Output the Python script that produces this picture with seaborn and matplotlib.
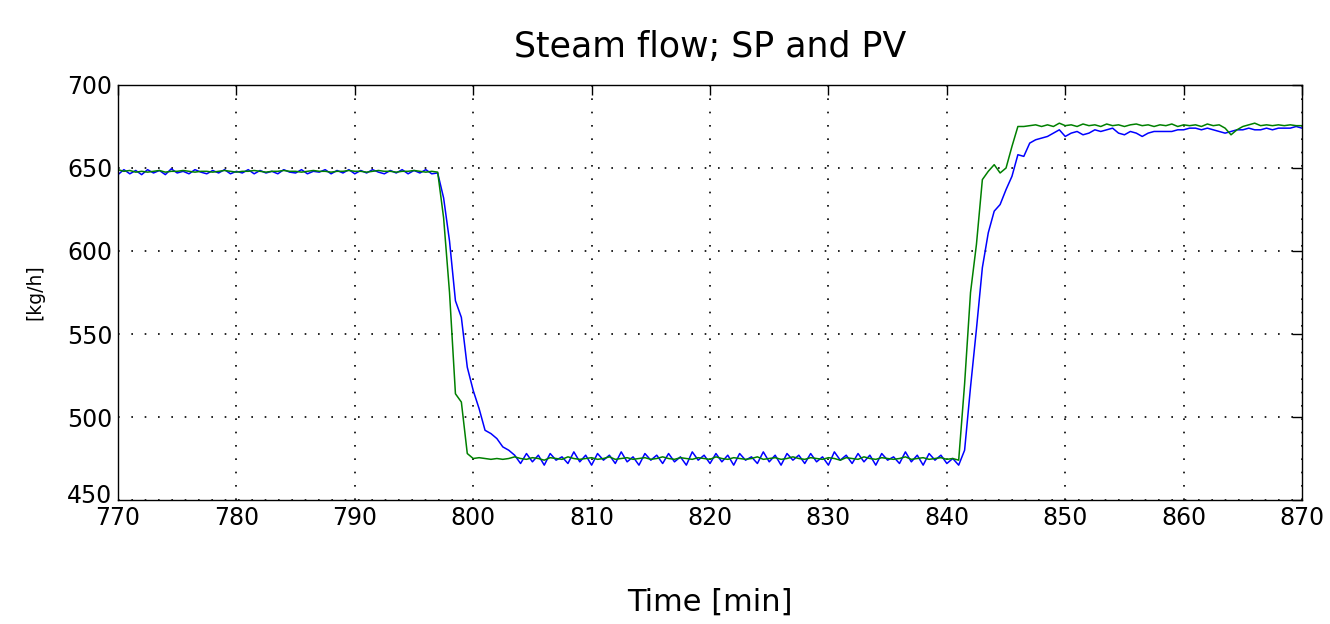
import numpy as np
import pandas as pd
import matplotlib
matplotlib.use("Agg")
import matplotlib.pyplot as plt
import matplotlib.transforms as mtransforms
import seaborn as sns

# sampling of the trend (minutes)
t_start = 770.0
t_step = 0.5

# green trace (set point), one value per 0.5 min
sp_flow = [
    649, 648, 648.5, 647.5, 648, 647.5, 648, 648.5, 647.5, 648,
    648, 648.5, 648, 647.5, 648, 648, 647.5, 648, 648.5, 648,
    647.5, 648, 648, 648.5, 648, 647.5, 648, 648, 648.5, 648,
    648, 647.5, 648, 648.5, 648, 648, 647.5, 648, 648, 648.5,
    648, 648, 647.5, 648, 648.5, 648, 648, 647.5, 648, 648,
    648.5, 648, 647.5, 648, 647.5,
    620, 575, 514, 509, 478, 475, 475.5, 475, 474.5, 475, 474.5, 475, 476,
    475, 474.5, 475.5, 475, 474, 475.5, 475, 474.5, 476, 475,
    474.5, 475, 475.5, 474.5, 475, 476, 474.5, 475, 475.5, 474.5,
    475, 475.5, 474.5, 475, 476, 475, 474.5, 475.5, 475, 474.5,
    475.5, 475, 474.5, 476, 475, 474.5, 475.5, 475, 474.5, 475,
    476, 474.5, 475, 475.5, 474.5, 475, 476, 475, 474.5, 475.5,
    475, 474.5, 475.5, 475, 474, 475.5, 475, 474.5, 476, 475,
    474.5, 475.5, 475, 474.5, 475, 476, 474.5, 475, 475.5, 474.5,
    475, 475.5, 474.5, 475, 474,
    520, 575, 604, 643, 648, 652, 647, 650, 663, 675, 675, 675.5, 676,
    675, 676, 675, 677, 675.5, 676, 675, 676.5, 675.5, 676,
    675, 676.5, 675.5, 676, 675, 676, 676.5, 675.5, 676, 675,
    676, 675.5, 676.5, 675, 676, 675.5, 676, 675, 676.5, 675.5,
    676, 674, 670, 673, 675, 676, 677, 675.5, 676, 675.5,
    676, 675.5, 676, 675.5, 675.5,
]

# blue trace (process value)
pv_flow = [
    646, 649, 646.5, 648.5, 646, 649, 647, 648.5, 646, 649.5,
    647, 648, 646.5, 649, 647.5, 646.5, 648.5, 647, 649, 646.5,
    648, 647, 649, 646.5, 648.5, 647, 648, 646.5, 649, 647.5,
    647, 649, 646.5, 648, 647.5, 649, 646.5, 648.5, 647, 649,
    646.5, 648.5, 647, 649, 647.5, 646.5, 648.5, 647, 649, 646.5,
    648.5, 647, 649, 646.5, 647,
    632, 606, 570, 560, 530, 516, 505, 492, 490, 487, 482, 480, 477,
    472, 478, 473, 477, 471, 478, 474, 476, 472, 479,
    473, 477, 471, 478, 474, 477, 472, 479, 473, 476,
    471, 478, 474, 477, 472, 478, 473, 476, 471, 479,
    474, 477, 472, 478, 473, 477, 471, 478, 474, 476,
    472, 479, 473, 477, 471, 478, 474, 477, 472, 478,
    473, 476, 471, 479, 474, 477, 472, 478, 473, 477,
    471, 478, 474, 476, 472, 479, 473, 477, 471, 478,
    474, 477, 472, 475, 471,
    480, 518, 553, 590, 611, 624, 628, 637, 645, 658, 657, 665, 667,
    668, 669, 671, 673, 669, 671, 672, 670, 671, 673,
    672, 673, 674, 671, 670, 672, 671, 669, 671, 672,
    672, 672, 672, 673, 673, 674, 674, 673, 674, 673,
    672, 671, 672, 673, 673, 674, 673, 673, 674, 673,
    674, 674, 674, 675, 674,
]

x_ticks = [770, 780, 790, 800, 810, 820, 830, 840, 850, 860, 870]
y_ticks = [450, 500, 550, 600, 650, 700]

minutes = t_start + t_step * np.arange(len(sp_flow))
df = pd.DataFrame({"time": minutes, "sp": sp_flow, "pv": pv_flow})

sns.set_style("white")
plt.rcParams["font.family"] = ["DejaVu Sans"]
plt.rcParams["text.color"] = "black"
plt.rcParams["axes.labelcolor"] = "black"

fig = plt.figure(figsize=(13.3, 6.24), dpi=100)
ax = fig.add_axes([0.0887, 0.1987, 0.8903, 0.6651])

sns.lineplot(data=df, x="time", y="pv", color=(0, 0, 1), linewidth=1.1, ax=ax)
sns.lineplot(data=df, x="time", y="sp", color=(0, 0.5, 0), linewidth=1.1, ax=ax)

ax.set_xlim(770, 870)
ax.set_ylim(450, 700)
ax.set_xticks(x_ticks)
ax.set_yticks(y_ticks)
ax.grid(True, color="black", linestyle=(0, (1, 7)), linewidth=1.2)
ax.tick_params(direction="in", length=7, width=1, top=True, right=True,
               labelsize=17, colors="black", pad=4)
for side in ax.spines.values():
    side.set_color("black")
    side.set_linewidth(1)

# lift the bottom y label a little, as in the source
ylab = ax.get_yticklabels()[0]
ylab.set_transform(ylab.get_transform() +
                   mtransforms.ScaledTranslation(0, 5 / 72, fig.dpi_scale_trans))

ax.set_title("Steam flow; SP and PV", fontsize=25, pad=20, color="black")
ax.set_xlabel("Time [min]", fontsize=22, labelpad=42)
ax.set_ylabel("[kg/h]", fontsize=13.5, labelpad=16)

fig.savefig("out.png", dpi=100)
